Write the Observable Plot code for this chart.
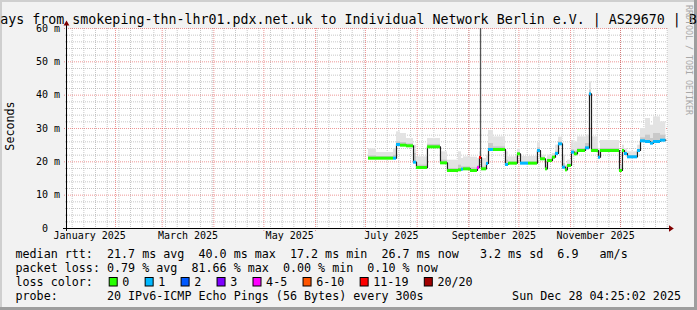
<!DOCTYPE html>
<html><head><meta charset="utf-8">
<script src="https://cdn.jsdelivr.net/npm/d3@7"></script>
<script src="https://cdn.jsdelivr.net/npm/@observablehq/plot@0.6"></script>
<style>
html,body{margin:0;padding:0;background:#f2f2f2;}
#chart{width:697px;height:310px;overflow:hidden;position:relative;}
svg text{white-space:pre;}
</style></head><body><div id="chart"></div>
<script>
// ---- axis / tick data ----
const domainStart = "2025-01-03T04:25Z", domainEnd = "2025-12-29T04:25Z";
const yTicks = [0, 10, 20, 30, 40, 50, 60];
const yTickLabels = ["0", "10 m", "20 m", "30 m", "40 m", "50 m", "60 m"];
const yMinor = [2,4,6,8,12,14,16,18,22,24,26,28,32,34,36,38,42,44,46,48,52,54,56,58];
const monthLabels = ["January 2025", "March 2025", "May 2025", "July 2025", "September 2025", "November 2025"];
const monthLabelDates = ["2025-01-16T12:00Z", "2025-03-16T12:00Z", "2025-05-16T12:00Z", "2025-07-16T12:00Z", "2025-09-16T00:00Z", "2025-11-16T00:00Z"];

// ---- series: interval starts, median rtt (ms), loss class, smoke levels (ms) ----
const starts = [
 "2025-07-02T19:00Z","2025-07-07T14:00Z","2025-07-17T19:00Z","2025-07-19T14:00Z","2025-07-21T23:30Z",
 "2025-07-25T14:00Z","2025-07-29T19:00Z","2025-07-31T14:00Z","2025-08-07T04:00Z","2025-08-14T23:30Z",
 "2025-08-19T04:00Z","2025-08-25T19:00Z","2025-08-27T14:00Z","2025-08-28T19:00Z","2025-09-01T23:30Z",
 "2025-09-06T04:00Z","2025-09-07T09:00Z","2025-09-08T14:00Z","2025-09-11T14:00Z","2025-09-12T19:00Z",
 "2025-09-15T19:00Z","2025-09-22T23:30Z","2025-09-24T19:00Z","2025-09-30T04:00Z","2025-10-01T23:30Z",
 "2025-10-06T19:00Z","2025-10-12T04:00Z","2025-10-13T23:30Z","2025-10-16T23:30Z","2025-10-18T04:00Z",
 "2025-10-21T04:00Z","2025-10-22T23:30Z","2025-10-24T19:00Z","2025-10-27T04:00Z","2025-10-28T23:30Z",
 "2025-10-30T04:00Z","2025-11-01T14:00Z","2025-11-03T09:00Z","2025-11-05T04:00Z","2025-11-09T23:30Z",
 "2025-11-12T09:00Z","2025-11-13T14:00Z","2025-11-17T19:00Z","2025-11-18T23:30Z","2025-11-30T09:00Z",
 "2025-12-02T04:00Z","2025-12-03T09:00Z","2025-12-05T04:00Z","2025-12-11T04:00Z","2025-12-12T23:30Z",
 "2025-12-15T23:30Z","2025-12-18T23:30Z","2025-12-20T19:00Z","2025-12-24T23:30Z"
];
const dataEnd = "2025-12-28T04:25Z";
const median = [
 21.1,21.1,21.1,25.2,25.0, 24.8,19.9,18.3,24.5,19.7, 17.4,17.6,17.8,17.9,17.4,
 18.3,21.3,17.9,19.5,23.7, 23.7,19.2,19.6,22.4,19.6, 19.6,23.4,20.9,17.9,20.4,
 21.4,22.5,25.4,18.4,17.6, 18.9,22.9,22.4,23.4,24.2, 40.4,23.4,21.4,23.4,17.4,
 23.4,22.5,21.5,23.4,26.3, 26.1,25.6,26.1,26.5
];
const loss = [
 0,0,1,1,0, 0,1,0,0,0, 0,0,1,0,0,
 4,6,0,1,1, 0,1,0,0,1, 0,1,0,0,0,
 0,1,1,1,0, 0,1,0,0,1, 1,0,1,0,0,
 0,1,1,1,1, 1,1,1,1
];
const smokeMid = [
 21.8,21.6,22.0,26.0,25.8, 25.4,22.5,19.0,25.2,20.5, 18.0,19.0,18.5,18.5,18.2,
 18.8,21.8,18.5,20.0,25.5, 24.5,20.5,20.0,22.8,20.0, 20.0,24.2,21.3,18.3,20.8,
 21.8,23.2,26.0,19.5,17.9, 19.3,23.6,23.2,24.0,25.5, 41.5,24.0,22.0,24.0,17.8,
 23.8,22.9,21.9,23.8,27.2, 28.0,27.0,28.5,28.0
];
const smokeHi = [
 24.0,22.8,24.0,29.0,28.5, 27.0,25.0,21.5,27.0,23.0, 20.5,23.0,21.0,21.5,21.4,
 21.0,23.0,21.0,22.0,29.4, 27.5,23.0,21.5,24.0,21.6, 21.6,25.8,22.0,19.0,22.0,
 22.5,25.0,27.4,22.0,19.0, 20.5,26.4,26.0,27.5,28.0, 44.0,27.5,24.0,26.4,19.0,
 25.0,24.0,23.0,25.0,30.0, 33.0,31.0,33.5,32.0
];
const spikeDates = ["2025-09-08T00:00Z"];
const spikeLo = [21.3];
const spikeHi = [60];

const lossLabels = ["0", "1", "2", "3", "4-5", "6-10", "11-19", "20/20"];
const lossColors = ["#26ff00", "#00b8ff", "#0059ff", "#7e00ff", "#ff00ff", "#ff5500", "#ff0000", "#a10000"];

const P = s => new Date(s);
const T = starts.map(P);
const endT = P(dataEnd);
const rows = T.map((t, i) => ({t, t2: i < T.length - 1 ? T[i + 1] : endT, med: median[i], loss: loss[i], mid: smokeMid[i], hi: smokeHi[i]}));
const lineData = rows.map(r => ({t: r.t, v: r.med})).concat([{t: endT, v: median[median.length - 1]}]);
const x0 = P(domainStart), x1 = P(domainEnd);
const weeks = d3.utcMonday.range(x0, x1);
const months = d3.utcMonth.range(x0, x1);
const MONO = "DejaVu Sans Mono";
const yLab = yTicks.map((v, i) => ({v, s: yTickLabels[i]}));

const chart = Plot.plot({
  width: 697, height: 310,
  marginLeft: 67, marginRight: 30, marginTop: 28, marginBottom: 82,
  x: {type: "utc", domain: [x0, x1], axis: null},
  y: {domain: [0, 60], axis: null},
  style: {background: "#f2f2f2", fontFamily: MONO, overflow: "visible", color: "#000"},
  marks: [
    Plot.frame({fill: "#ffffff", stroke: null}),
    Plot.ruleX(weeks, {stroke: "#8f8f8f", strokeOpacity: 0.5, strokeDasharray: "1,1", insetBottom: -2}),
    Plot.ruleY(yMinor, {stroke: "#8f8f8f", strokeOpacity: 0.5, strokeDasharray: "1,1", insetLeft: -2}),
    Plot.ruleX(months, {stroke: "#de2e2e", strokeOpacity: 0.5, strokeDasharray: "1,1", insetBottom: -3}),
    Plot.ruleY(yTicks.filter(d => d > 0), {stroke: "#de2e2e", strokeOpacity: 0.5, strokeDasharray: "1,1", insetLeft: -3}),
    Plot.rect(rows, {x1: "t", x2: "t2", y1: "med", y2: "hi", fill: "#e3e3e3"}),
    Plot.rect(rows, {x1: "t", x2: "t2", y1: "med", y2: "mid", fill: "#c9c9c9"}),
    Plot.ruleX(spikeDates, {x: d => P(d), y1: (d, i) => spikeLo[i], y2: (d, i) => spikeHi[i], stroke: "#555555", strokeWidth: 1.3}),
    Plot.line(lineData, {x: "t", y: "v", curve: "step-after", stroke: "#202020", strokeWidth: 1.2}),
    Plot.ruleY(rows, {y: "med", x1: "t", x2: "t2", stroke: d => lossColors[d.loss], strokeWidth: 3}),
    Plot.ruleY([0], {stroke: "#000", insetLeft: -4, insetRight: -2}),
    Plot.ruleX([x0], {stroke: "#000", dx: -1, insetTop: -3, insetBottom: -3}),
    Plot.text(yLab.filter(d => d.v > 0), {y: "v", text: "s", frameAnchor: "left", textAnchor: "end", dx: -7.5, fontSize: 10, fontFamily: MONO, fill: "#000"}),
    Plot.text(yLab.filter(d => d.v === 0), {y: "v", text: "s", frameAnchor: "left", textAnchor: "end", dx: -19.5, fontSize: 10, fontFamily: MONO, fill: "#000"}),
    Plot.text(monthLabelDates, {x: d => P(d), text: (d, i) => monthLabels[i], frameAnchor: "bottom", dy: 10, fontSize: 10, fontFamily: MONO, fill: "#000"})
  ]
});
document.getElementById("chart").appendChild(chart);

// ---- decorations, title and legend ----
const svg = d3.select(chart);
svg.append("path").attr("d", "M669,225.3L673.8,228.5L669,231.7Z").attr("fill", "#800000");
svg.append("path").attr("d", "M63.6,25.6L66.5,20.6L69.4,25.6Z").attr("fill", "#800000");
svg.append("rect").attr("x", 0).attr("y", 0).attr("width", 697).attr("height", 2).attr("fill", "#cfcfcf");
svg.append("rect").attr("x", 0).attr("y", 0).attr("width", 2).attr("height", 310).attr("fill", "#cfcfcf");
svg.append("rect").attr("x", 694).attr("y", 0).attr("width", 3).attr("height", 310).attr("fill", "#9e9e9e");
svg.append("rect").attr("x", 0).attr("y", 307).attr("width", 697).attr("height", 3).attr("fill", "#9e9e9e");

const txt = (x, y, s, size, opts = {}) => {
  const t = svg.append("text").attr("x", x).attr("y", y).attr("font-family", MONO).attr("font-size", size)
    .attr("fill", opts.fill || "#000").attr("text-anchor", opts.anchor || "start").text(s);
  if (opts.rotate) t.attr("transform", `rotate(${opts.rotate},${x},${y})`);
  return t;
};
txt(0.3, 24.2, "ays from smokeping-thn-lhr01.pdx.net.uk to Individual Network Berlin e.V. | AS29670 | B", 13.3);
txt(13.5, 126, "Seconds", 11.7, {anchor: "middle", rotate: -90});
txt(685.5, 5, "RRDTOOL / TOBI OETIKER", 8.3, {fill: "#a8a8a8", rotate: 90});

const LX = 15.5, FS = 11.7, CW = 7.05;
txt(LX, 258.3, "median rtt:  21.7 ms avg  40.0 ms max  17.2 ms min  26.7 ms now   3.2 ms sd  6.9   am/s", FS);
txt(LX, 272.3, "packet loss: 0.79 % avg  81.66 % max  0.00 % min  0.10 % now", FS);
txt(LX, 286.3, "loss color:", FS);
txt(LX, 300.3, "probe:       20 IPv6-ICMP Echo Pings (56 Bytes) every 300s", FS);
txt(681, 300.3, "Sun Dec 28 04:25:02 2025", FS, {anchor: "end"});
let bx = 108.7;
lossLabels.forEach((lab, i) => {
  svg.append("rect").attr("x", bx + 0.5).attr("y", 277.5).attr("width", 8).attr("height", 8.5)
    .attr("fill", lossColors[i]).attr("stroke", "#000").attr("stroke-width", 1);
  txt(bx + 13.6, 286.3, lab, FS);
  bx = bx + 13.6 + CW * lab.length + 15.3;
});
</script></body></html>
